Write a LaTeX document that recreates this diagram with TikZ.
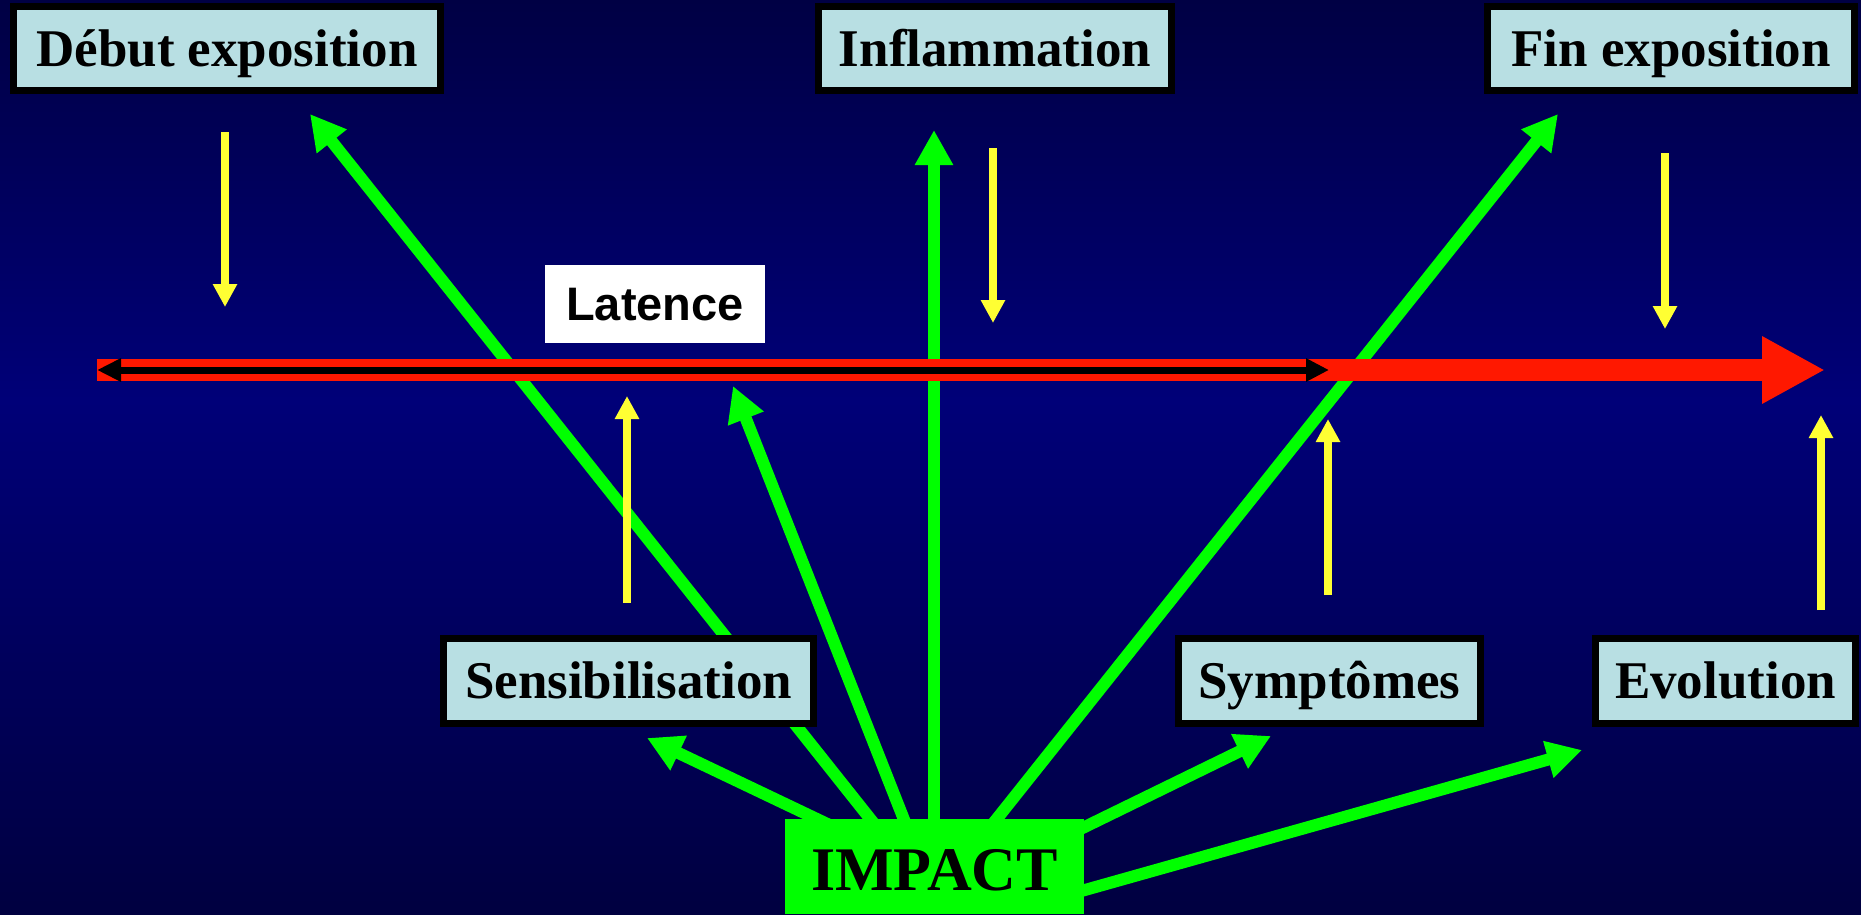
\documentclass[tikz,border=0pt]{standalone}
\usepackage{fontspec}
\setmainfont{Liberation Serif}
\newfontfamily\latfont{Liberation Sans}
\usetikzlibrary{arrows.meta}
\definecolor{bgtop}{RGB}{0,0,68}
\definecolor{bgmid}{RGB}{0,0,120}
\definecolor{bgbot}{RGB}{0,0,64}
\definecolor{grn}{RGB}{0,255,0}
\definecolor{ylw}{RGB}{255,255,51}
\definecolor{redc}{RGB}{255,24,0}
\definecolor{boxfill}{RGB}{184,223,227}
\begin{document}
\begin{tikzpicture}[x=1pt,y=-1pt,
  greenarrow/.style={draw=grn, line width=12pt, -{Triangle[length=35pt,width=36pt]}},
  yellowarrow/.style={draw=ylw, line width=8pt, -{Triangle[length=23pt,width=23pt]}},
  labelbox/.style={draw=black, line width=7pt, fill=boxfill, inner sep=0pt,
    text height=35pt, text depth=0pt, font=\bfseries\fontsize{53pt}{60pt}\selectfont},
]
\useasboundingbox (0,0) rectangle (1861,914);
\shade[top color=bgtop, bottom color=bgmid] (0,0) rectangle (1861,400);
\shade[top color=bgmid, bottom color=bgbot] (0,400) rectangle (1861,914);

% coordinates
\coordinate (sD) at (895,850);
\coordinate (tD) at (310,114);
\coordinate (sL) at (916,850);
\coordinate (tL) at (733,386);
\coordinate (sI) at (934,850);
\coordinate (tI) at (934,130);
\coordinate (sF) at (972,850);
\coordinate (tF) at (1558,114);
\coordinate (sS) at (840,830);
\coordinate (tS) at (647,738);
\coordinate (sY) at (1060,839);
\coordinate (tY) at (1271,736);
\coordinate (sE) at (1060,897);
\coordinate (tE) at (1582,750);

% green connectors
\draw[greenarrow] (sD) -- (tD);
\draw[greenarrow] (sL) -- (tL);
\draw[greenarrow] (sI) -- (tI);
\draw[greenarrow] (sF) -- (tF);
\draw[greenarrow] (sS) -- (tS);
\draw[greenarrow] (sY) -- (tY);
\draw[greenarrow] (sE) -- (tE);

% time line
\coordinate (tl0) at (97,370);
\coordinate (tl1) at (1825,370);
\coordinate (lat1) at (1329,370);
\draw[line width=22pt, draw=redc, -{Triangle[length=63pt,width=63pt]}] (tl0) -- (tl1);
\draw[line width=7pt, draw=black, {Triangle[length=24pt,width=22pt]}-{Triangle[length=23pt,width=22pt]}] (tl0) -- (lat1);

% yellow arrows
\coordinate (y1a) at (225,132);  \coordinate (y1b) at (225,307);
\coordinate (y2a) at (993,148);  \coordinate (y2b) at (993,323);
\coordinate (y3a) at (1665,153); \coordinate (y3b) at (1665,329);
\coordinate (y4a) at (627,603);  \coordinate (y4b) at (627,396);
\coordinate (y5a) at (1328,595); \coordinate (y5b) at (1328,419);
\coordinate (y6a) at (1821,610); \coordinate (y6b) at (1821,415);
\draw[yellowarrow] (y1a) -- (y1b);
\draw[yellowarrow] (y2a) -- (y2b);
\draw[yellowarrow] (y3a) -- (y3b);
\draw[yellowarrow] (y4a) -- (y4b);
\draw[yellowarrow] (y5a) -- (y5b);
\draw[yellowarrow] (y6a) -- (y6b);

% Latence label
\node[fill=white, inner sep=0pt, minimum width=220pt, minimum height=78pt,
  text height=33.6pt, text depth=0pt,
  font=\latfont\bfseries\fontsize{47pt}{54pt}\selectfont] (lat) at (655,304) {Latence};

% boxes
\node[labelbox, minimum width=427pt, minimum height=84pt] (debut) at (227,48.5) {Début exposition};
\node[labelbox, minimum width=353pt, minimum height=84pt] (infl) at (995,48.5) {Inflammation};
\node[labelbox, minimum width=367pt, minimum height=84pt] (fin) at (1671,48.5) {Fin exposition};
\node[labelbox, minimum width=370pt, minimum height=85pt] (sens) at (628.5,681) {Sensibilisation};
\node[labelbox, minimum width=302pt, minimum height=85pt] (sympt) at (1329.5,681) {Symptômes};
\node[labelbox, minimum width=260pt, minimum height=85pt] (evol) at (1725.5,681) {Evolution};

% IMPACT
\node[fill=grn, inner sep=0pt, minimum width=299pt, minimum height=95pt,
  text height=47pt, text depth=0pt,
  font=\bfseries\fontsize{62pt}{70pt}\selectfont] (impact) at (934.5,866.5) {IMPACT};
\end{tikzpicture}
\end{document}
